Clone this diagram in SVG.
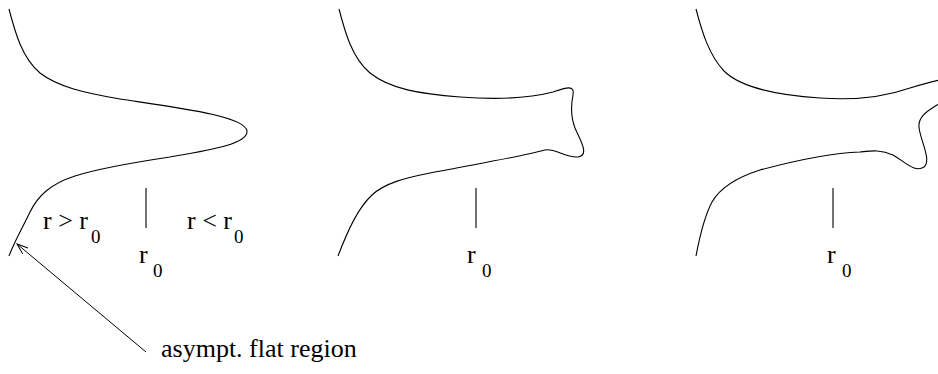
<svg xmlns="http://www.w3.org/2000/svg" width="938" height="374" viewBox="0 0 938 374">
<style>
.c{fill:none;stroke:#000;stroke-width:1.1}
.t{font-family:"Liberation Serif","Times New Roman",serif;font-size:26px;fill:#000}
.s{font-size:19px}
</style>
<defs>
<marker id="ah" markerWidth="12" markerHeight="10" refX="11" refY="4" orient="auto" markerUnits="userSpaceOnUse">
<path d="M0,0 L11,4 L0,8" fill="none" stroke="#000" stroke-width="1"/>
</marker>
</defs>
<rect width="938" height="374" fill="#fff"/>
<g id="panel1">
<path class="c" d="M9,9 C15,32 22,58 40,73 C58,87 85,93 120,99 C180,108 245,116 247,131 C248,144 210,150 170,157 C130,163 100,168 75,176 C50,184 38,196 30,212 C24,225 15,240 9,256"/>
<line class="c" x1="146" y1="188" x2="146" y2="228"/>
<text class="t" x="43" y="229">r &gt; r<tspan class="s" x="91" y="243">0</tspan></text>
<text class="t" x="187" y="229">r &lt; r<tspan class="s" x="234" y="243">0</tspan></text>
<text class="t" x="139" y="263">r<tspan class="s" x="153" y="277">0</tspan></text>
</g>
<g id="panel2">
<path class="c" d="M339,9 C345,32 352,58 370,73 C390,89 420,94 460,97 C500,100 530,98 553,92 C565,88 575,84 573,95 C571,105 570,115 575,128 C580,140 590,155 578,157 C565,158 555,148 545,150 C520,157 470,165 430,173 C405,178 385,183 372,195 C358,208 348,230 338,256"/>
<line class="c" x1="476" y1="188" x2="476" y2="228"/>
<text class="t" x="467" y="263">r<tspan class="s" x="482" y="277">0</tspan></text>
</g>
<g id="panel3">
<path class="c" d="M696,9 C702,32 709,55 724,71 C740,87 775,95 820,98 C860,101 890,95 910,88 C920,85 930,82 940,80"/>
<path class="c" d="M940,103 C930,110 918,115 919,127 C920,140 932,160 924,167 C915,173 905,162 893,155 C880,149 870,151 860,152 C830,153 790,162 760,170 C735,178 720,188 712,202 C705,215 700,235 696,256"/>
<line class="c" x1="833" y1="188" x2="833" y2="228"/>
<text class="t" x="827" y="263">r<tspan class="s" x="842" y="277">0</tspan></text>
</g>
<g id="connectors">
<line x1="146" y1="352" x2="17" y2="244" stroke="#000" stroke-width="1" marker-end="url(#ah)"/>
</g>
<g id="label">
<text class="t" x="161" y="357">asympt. flat region</text>
</g>
</svg>
